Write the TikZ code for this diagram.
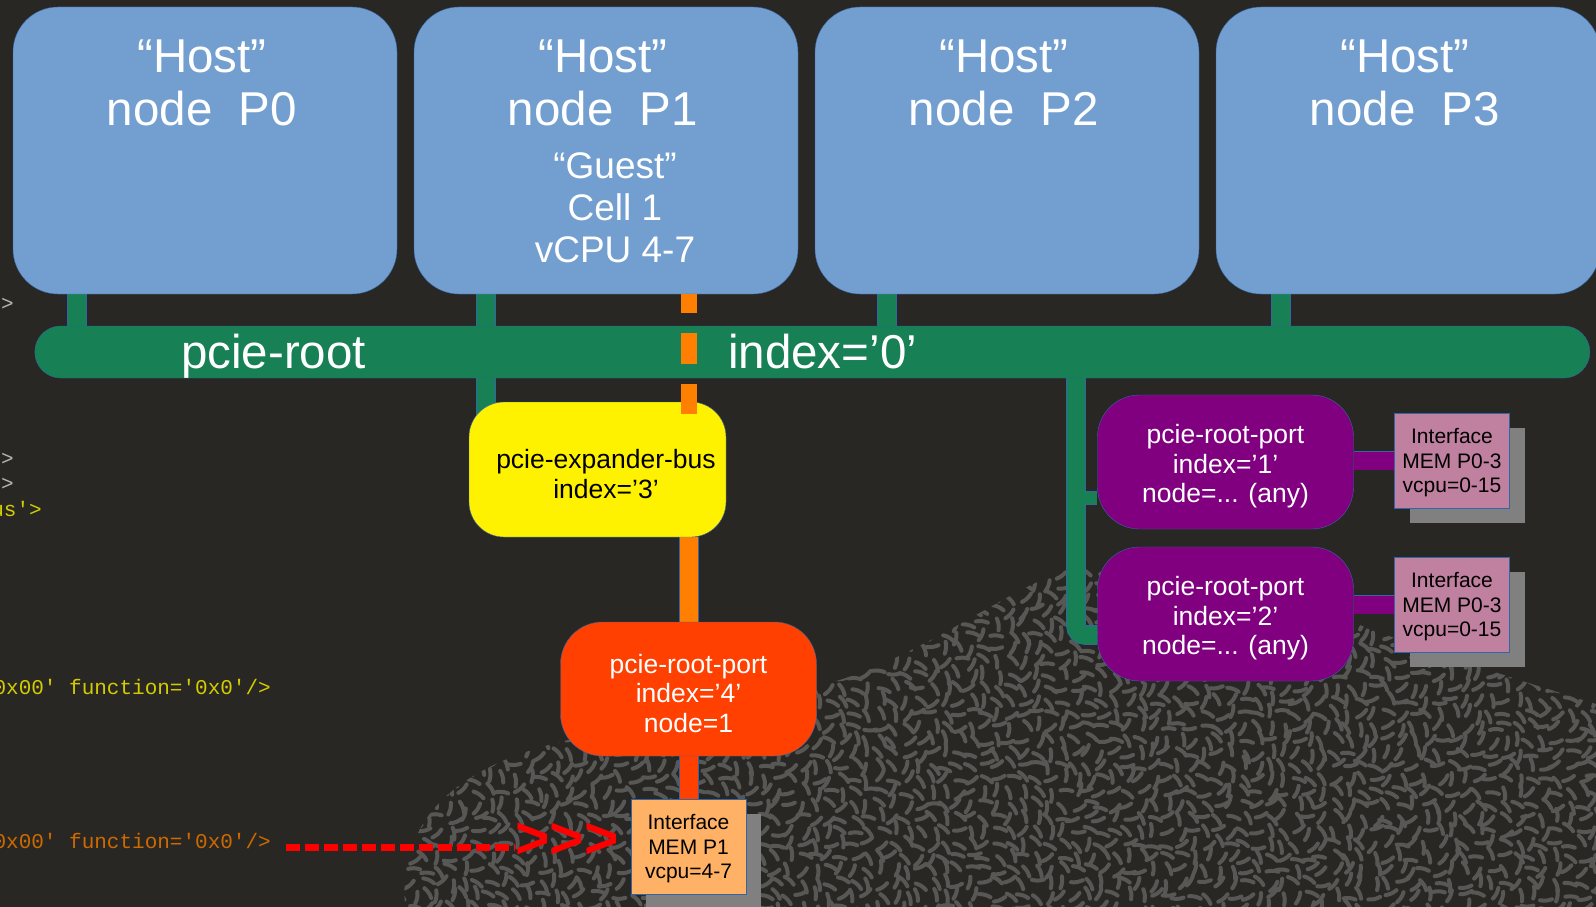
\documentclass[tikz,border=0pt]{standalone}
\usepackage{fontspec}
\setmainfont{Liberation Sans}
\newfontfamily\codefont{Liberation Mono}[Ligatures=TeXOff]
\usetikzlibrary{calc,shadows}
\pgfdeclarelayer{backdrop}
\pgfdeclarelayer{wires}
\pgfsetlayers{backdrop,wires,main}
\definecolor{slide}{HTML}{292724}
\definecolor{hostblue}{HTML}{729FCF}
\definecolor{edgeblue}{HTML}{3465A4}
\definecolor{busgreen}{HTML}{178055}
\definecolor{portpurple}{HTML}{800080}
\definecolor{portred}{HTML}{FF4000}
\definecolor{linkorange}{HTML}{FF8000}
\definecolor{memmauve}{HTML}{C0809F}
\definecolor{memorange}{HTML}{FFB266}
\definecolor{shadegray}{HTML}{808080}
\definecolor{codeyellow}{HTML}{D2CC00}
\definecolor{codeorange}{HTML}{CC6A00}
\definecolor{codegray}{HTML}{B4B4B4}
\definecolor{speck}{HTML}{575755}
\newcommand{\codeq}{\textquotesingle}
\newcommand{\portlift}{\rule{0pt}{28pt}}
\newcommand{\memlift}{\rule{0pt}{20pt}}

\begin{document}
\begin{tikzpicture}
[x=1pt,y=-1pt,
every node/.style={align=center,inner sep=0pt},
hostbox/.style={draw=edgeblue,fill=hostblue,rounded corners=45pt,minimum width=384pt,minimum height=287pt},
hosttext/.style={text=white,font=\fontsize{47.5}{53}\selectfont},
guesttext/.style={text=white,font=\fontsize{37}{42}\selectfont},
busbar/.style={draw=edgeblue,fill=busgreen,rounded corners=26pt,minimum width=1555pt,minimum height=52pt},
porttext/.style={font=\fontsize{26.5}{29.5}\selectfont},
portbox/.style={draw=edgeblue,fill=#1,rounded corners=42pt,minimum width=256pt,minimum height=134pt,text=white,porttext},
membox/.style={draw=edgeblue,fill=#1,minimum width=115pt,minimum height=95pt,font=\fontsize{21}{24.5}\selectfont,
  drop shadow={shadow xshift=15pt,shadow yshift=-15pt,fill=shadegray,opacity=1,draw=none}},
bar/.style={draw=edgeblue,line width=0.8pt,double=#1,double distance=18pt},
code/.style={text=#1,font=\codefont\fontsize{21}{25}\selectfont,anchor=east},
speckle/.style={draw=speck,line width=4pt,line cap=round},
pointer/.style={draw=red,line width=7pt,dash pattern=on 14pt off 5pt},
guestdash/.style={draw=linkorange,line width=16pt,dash pattern=on 31pt off 20pt,dash phase=12pt}]

\useasboundingbox (0,0) rectangle (1596,907);

% slide background and texture
\begin{pgfonlayer}{backdrop}
\fill[slide] (0,0) rectangle (1596,907);
\begin{scope}
\clip (405,907) .. controls (398,820) and (455,768) .. (560,742)
  .. controls (690,710) and (800,700) .. (880,665)
  .. controls (975,622) and (1035,572) .. (1092,564)
  .. controls (1200,556) and (1300,604) .. (1400,640)
  .. controls (1480,668) and (1550,690) .. (1596,704) -- (1596,907) -- cycle;
\pgfmathsetseed{11}
\foreach \i in {0,...,93}{
  \foreach \j in {0,...,27}{
    \pgfmathsetmacro{\sx}{400+13*\i+4*rand}
    \pgfmathsetmacro{\sy}{558+13*\j+4*rand}
    \pgfmathsetmacro{\sa}{180*rnd}
    \draw[speckle] (\sx,\sy) ++(\sa:-6) to[bend left=15] ++(\sa:12);
  }
}
\end{scope}
\end{pgfonlayer}

% code lines at the left edge
\node[code=codegray] (frag1) at (14,303) {/>};
\node[code=codegray] (frag2) at (14,458) {/>};
\node[code=codegray] (frag3) at (14,483) {/>};
\node[code=codeyellow] (frag4) at (42,509) {us\codeq>};
\node[code=codeyellow] (codeA) at (271,687) {0x00\codeq\ function=\codeq 0x0\codeq/>};
\node[code=codeorange] (codeB) at (271,841) {0x00\codeq\ function=\codeq 0x0\codeq/>};

% host nodes
\node[hostbox] (hostA) at (205,150.5) {};
\node[hostbox] (hostB) at (606,150.5) {};
\node[hostbox] (hostC) at (1007,150.5) {};
\node[hostbox] (hostD) at (1408,150.5) {};
\node[hosttext] at (202,82.5) {“Host”\\node~~P0~};
\node[hosttext] at (603,82.5) {“Host”\\node~~P1~};
\node[hosttext] at (1004,82.5) {“Host”\\node~~P2~};
\node[hosttext] at (1405,82.5) {“Host”\\node~~P3~};
\node[guesttext] at (615,207.5) {“Guest”\\Cell 1\\vCPU 4-7};

% root bus
\node[busbar] (bus) at (812.3,352) {};
\node[hosttext,anchor=base] at (273.5,368) {pcie-root};
\node[hosttext,anchor=base west] at (728,368) {index=’0’};

% ports and interfaces
\node[portbox=yellow,rounded corners=35pt,minimum width=257pt,minimum height=135pt] (expander) at (597.5,469.5) {};
\node[porttext] at (606,469.5) {\portlift pcie-expander-bus\\index=’3’};
\node[portbox=portred] (rport) at (688.5,689) {\portlift pcie-root-port\\index=’4’\\node=1};
\node[portbox=portpurple] (portA) at (1225.5,462) {\portlift pcie-root-port\\index=’1’\\node=... (any)};
\node[portbox=portpurple] (portB) at (1225.5,614) {\portlift pcie-root-port\\index=’2’\\node=... (any)};
\node[membox=memmauve] (memA) at (1452,460.5) {\memlift Interface\\MEM P0-3\\vcpu=0-15};
\node[membox=memmauve] (memB) at (1452,604.5) {\memlift Interface\\MEM P0-3\\vcpu=0-15};
\node[membox=memorange] (memP1) at (688.5,846.5) {\memlift Interface\\MEM P1\\vcpu=4-7};

\coordinate (tap0) at (77,0);
\coordinate (tap1) at (486,0);
\coordinate (tap2) at (887,0);
\coordinate (tap3) at (1281,0);
\coordinate (tapG) at (689,0);
\coordinate (tapR) at (1076,0);
\coordinate (kneeA) at ($(portA.west)+(0,36)$);
\coordinate (kneeB) at ($(portB.west)+(0,21)$);

% links
\begin{pgfonlayer}{wires}
\draw[bar=busgreen] (hostA.south -| tap0) -- (bus.north -| tap0);
\draw[bar=busgreen] (hostB.south -| tap1) -- (bus.north -| tap1);
\draw[bar=busgreen] (hostC.south -| tap2) -- (bus.north -| tap2);
\draw[bar=busgreen] (hostD.south -| tap3) -- (bus.north -| tap3);
\draw[bar=busgreen] (bus.south -| tap1) -- ($(expander.north -| tap1)+(0,20)$);
\draw[bar=busgreen,rounded corners=9pt] (bus.south -| tapR) |- (kneeB);
\draw[bar=busgreen,double distance=12pt] ($(kneeA -| tapR)+(9,0)$) -- (kneeA);
\draw[bar=linkorange] (expander.south -| tapG) -- (rport.north -| tapG);
\draw[bar=portred] (rport.south -| tapG) -- (memP1.north -| tapG);
\draw[bar=portpurple] (memA.west -| portA.east) -- (memA.west);
\draw[bar=portpurple] (memB.west -| portB.east) -- (memB.west);
\end{pgfonlayer}

\draw[guestdash] (hostB.south -| tapG) -- ($(expander.north -| tapG)+(0,12)$);

% pointer to the guest interface
\coordinate (ptr) at (286,847);
\node[text=red,font=\bfseries\fontsize{59}{59}\selectfont,anchor=west] (chev) at (515,841) {>\kern0pt>\kern0pt>};
\draw[pointer] (ptr) -- (ptr -| chev.west);
\end{tikzpicture}
\end{document}
